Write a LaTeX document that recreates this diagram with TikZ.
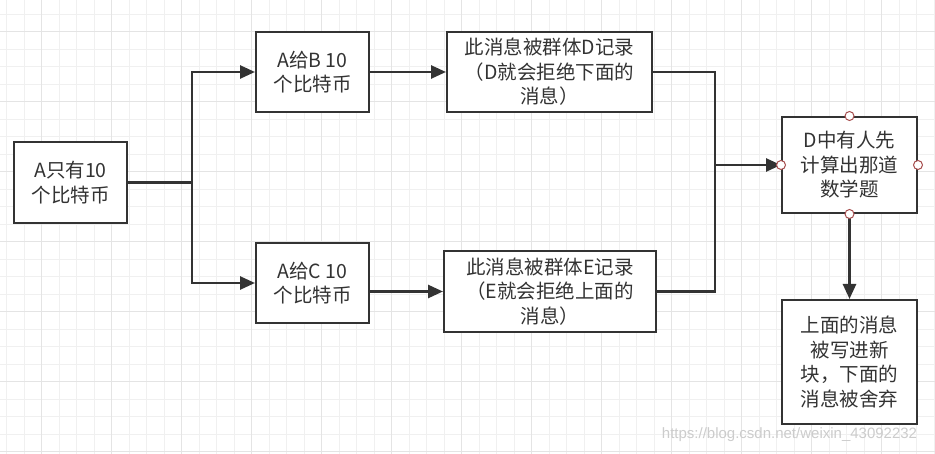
\documentclass[tikz,border=0pt]{standalone}
\usepackage{fontspec}
\setmainfont{Noto Sans CJK SC}
\newfontfamily\wmfont{Liberation Sans}
\usetikzlibrary{arrows.meta}

\definecolor{ink}{HTML}{333333}
\definecolor{gridminor}{HTML}{F0F0F0}
\definecolor{gridmajor}{HTML}{E4E4E4}
\definecolor{portred}{HTML}{A64D4D}

\begin{document}
\begin{tikzpicture}[x=1pt,y=-1pt,
    box/.style={draw=ink, line width=2pt, fill=white, text=ink, align=center, inner sep=0pt,
        font=\fontsize{19.5}{24.5}\selectfont},
    link/.style={draw=ink, line width=2.6pt},
    arr/.style={link, -{Triangle[length=15pt,width=13pt]}},
    port/.style={draw=portred, fill=white, line width=1pt, circle, inner sep=0pt, minimum size=9pt}]
    \useasboundingbox[fill=white] (0,0) rectangle (935,454);
    % grid paper
    \foreach \x in {6.7,24.2,...,935} \draw[gridminor, line width=1pt] (\x,0) -- (\x,454);
    \foreach \y in {14.3,31.8,...,454} \draw[gridminor, line width=1pt] (0,\y) -- (935,\y);
    \foreach \x in {41,111,...,935} \draw[gridmajor, line width=1pt] (\x,0) -- (\x,454);
    \foreach \y in {31.7,101.7,...,454} \draw[gridmajor, line width=1pt] (0,\y) -- (935,\y);

    \node[box, minimum width=113pt, minimum height=81pt] (A) at (70.5,182.5) {A只有10\\个比特币};
    \node[box, minimum width=113pt, minimum height=80pt] (AB) at (312.5,72) {A给B 10\\个比特币};
    \node[box, minimum width=113pt, minimum height=80pt] (AC) at (312.5,283) {A给C 10\\个比特币};
    \node[box, minimum width=205pt, minimum height=80pt] (recD) at (549.5,72) {此消息被群体D记录\\（D就会拒绝下面的\\消息）};
    \node[box, minimum width=212pt, minimum height=81pt] (recE) at (550,291.5) {此消息被群体E记录\\（E就会拒绝上面的\\消息）};
    \node[box, minimum width=135pt, minimum height=96pt] (solve) at (849.5,165) {D中有人先\\计算出那道\\数学题};
    \node[box, minimum width=135pt, minimum height=124pt] (result) at (849.5,362) {上面的消息\\被写进新\\块，下面的\\消息被舍弃};

    \coordinate (fork) at (192,182.5);
    \coordinate (join) at (715,165);
    \draw[link] (A.east) -- (fork);
    \draw[arr] (fork) |- (AB.west);
    \draw[arr] (fork) |- (AC.west);
    \draw[arr] (AB.east) -- (recD.west);
    \draw[arr] (recE.west -| AC.east) -- (recE.west);
    \draw[link] (recD.east) -| (join);
    \draw[link] (recE.east) -| (join);
    \draw[arr] (join) -- (solve.west);
    \draw[arr] (solve.south) -- (result.north);

    \foreach \p in {north,west,east,south} \node[port] (port-\p) at (solve.\p) {};

    \node[text=black!20, font=\wmfont\fontsize{15}{15}\selectfont] (mark) at (789.5,435) {https://blog.csdn.net/weixin\_43092232};
\end{tikzpicture}
\end{document}
